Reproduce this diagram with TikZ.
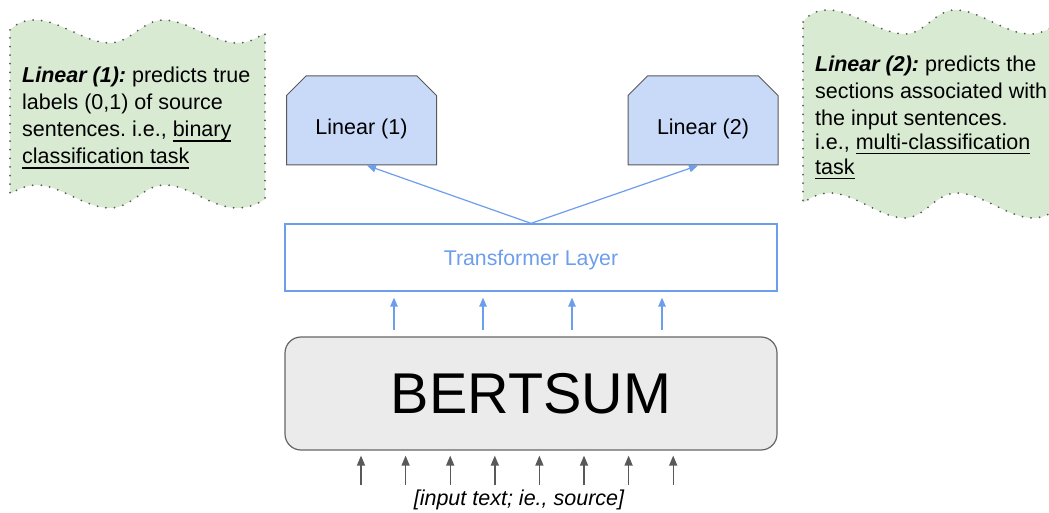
\documentclass[tikz,border=0pt]{standalone}
\usepackage{fontspec}
\setmainfont{Liberation Sans}
\frenchspacing
\usetikzlibrary{arrows.meta,shapes.misc}

\definecolor{notegreen}{HTML}{D9EAD3}
\definecolor{notedots}{HTML}{595959}
\definecolor{linblue}{HTML}{C9DAF8}
\definecolor{linedge}{HTML}{595959}
\definecolor{tfblue}{HTML}{6D9EEB}
\definecolor{bertgray}{HTML}{EBEBEB}
\definecolor{bertedge}{HTML}{666666}
\definecolor{ingray}{HTML}{595959}

\newcommand\undl[1]{\setbox0\hbox{#1}\rlap{\rule[-5pt]{\wd0}{1.6pt}}\box0}

\tikzset{
    note/.style={fill=notegreen, draw=notedots, line width=2pt, line cap=round, dash pattern=on 0pt off 8.6pt},
    notetext/.style={anchor=north west, inner sep=0pt, align=left, font=\fontsize{21.5}{27}\selectfont},
    linbox/.style={chamfered rectangle, chamfered rectangle corners={north west,north east}, chamfered rectangle xsep=16pt,
        draw=linedge, line width=1pt, fill=linblue, minimum width=150pt, minimum height=89pt, inner sep=0pt,
        text height=34pt, text depth=6pt, font=\fontsize{21.5}{26}\selectfont},
    tfbox/.style={rectangle, draw=tfblue, line width=1.3pt, text=tfblue, minimum width=492pt, minimum height=67pt,
        text height=20pt, text depth=4pt, font=\fontsize{21.3}{26}\selectfont},
    bertbox/.style={rectangle, rounded corners=16pt, draw=bertedge, line width=1.2pt, fill=bertgray,
        minimum width=492pt, minimum height=113pt, font=\fontsize{57.5}{60}\selectfont},
    tfarrow/.style={draw=tfblue, line width=1.2pt, -{Triangle[length=9pt,width=7.5pt]}},
    inarrow/.style={draw=ingray, line width=1.4pt, -{Triangle[length=10pt,width=8pt]}}
}

\begin{document}
\begin{tikzpicture}[x=1pt, y=-1pt]
    \useasboundingbox (0,0) rectangle (1049,513);

    \path[note] (10,30) .. controls (18,22) and (26,20) .. (35,20)
        .. controls (60,20) and (85,43) .. (110,43)
        .. controls (130,43) and (143,20) .. (163,20)
        .. controls (188,20) and (213,43) .. (238,43)
        .. controls (250,43) and (258,37) .. (265,33)
        -- (265,199) .. controls (258,204) and (248,208) .. (237,208)
        .. controls (212,208) and (188,185) .. (165,185)
        .. controls (143,185) and (132,208) .. (110,208)
        .. controls (85,208) and (60,185) .. (37,185)
        .. controls (27,185) and (18,189) .. (10,194) -- cycle;
    \path[note] (803,22) .. controls (810,13) and (818,10) .. (828,10)
        .. controls (853,10) and (880,34) .. (905,34)
        .. controls (925,34) and (935,10) .. (955,10)
        .. controls (980,10) and (1005,34) .. (1030,34)
        .. controls (1042,34) and (1050,28) .. (1058,24)
        -- (1058,209) .. controls (1050,214) and (1042,218) .. (1033,218)
        .. controls (1008,218) and (982,193) .. (957,193)
        .. controls (935,193) and (925,218) .. (905,218)
        .. controls (880,218) and (855,193) .. (830,193)
        .. controls (820,193) and (811,197) .. (803,203) -- cycle;

    \node[notetext] (lin1note) at (22,67) {{\bfseries\itshape Linear (1):} predicts true\\
        labels (0,1) of source\\ sentences. i.e., \undl{binary}\\ \undl{classification task}};
    \node[notetext] (lin2note) at (815,55.5) {{\bfseries\itshape Linear (2):} predicts the\\
        sections associated with\\ the input sentences.\\[-3pt] i.e., \undl{multi-classification}\\[-2pt] \undl{task}};

    \node[linbox] (lin1) at (361.5,120.5) {Linear (1)};
    \node[linbox] (lin2) at (703,120.5) {Linear (2)};
    \node[tfbox] (tf) at (531,257.5) {Transformer Layer};
    \node[bertbox] (bert) at (531,393.5) {BERTSUM};
    \node[anchor=base, inner sep=4pt, font=\fontsize{21.5}{26}\selectfont\itshape] (inp) at (519,505) {[input text; ie., source]};

    \draw[tfarrow] (tf.north) -- ([xshift=5.5pt]lin1.south);
    \draw[tfarrow] (tf.north) -- ([xshift=-5pt]lin2.south);
    \foreach \x in {394,483,572,662}
        \draw[tfarrow, shorten <=6pt, shorten >=6pt] (bert.north -| \x,0) -- (tf.south -| \x,0);
    \foreach \i in {0,...,7}
        \draw[inarrow, shorten >=5pt] (inp.north -| 361+44.6*\i,0) -- (bert.south -| 361+44.6*\i,0);
\end{tikzpicture}
\end{document}
